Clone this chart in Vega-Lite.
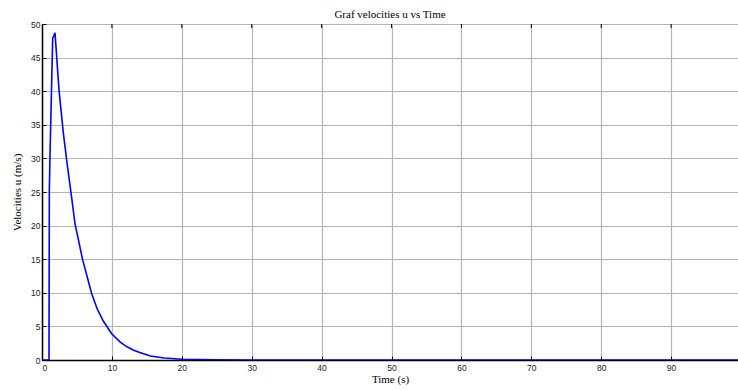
{
  "$schema": "https://vega.github.io/schema/vega-lite/v6.json",
  "width": 696,
  "height": 336,
  "autosize": {"type": "none"},
  "padding": {"left": 42, "top": 24, "right": 0, "bottom": 30},
  "background": "white",
  "title": {
    "text": "Graf velocities u vs Time",
    "font": "Liberation Serif",
    "fontSize": 11,
    "fontWeight": "normal",
    "color": "#000000",
    "anchor": "middle",
    "offset": 0
  },
  "config": {
    "view": {"stroke": null},
    "axis": {
      "labelFont": "Liberation Sans",
      "labelFontSize": 8.5,
      "labelColor": "#222222",
      "titleFont": "Liberation Serif",
      "titleFontSize": 11,
      "titleFontWeight": "normal",
      "titleColor": "#000000",
      "gridColor": "#b4b4b4",
      "gridWidth": 1.2,
      "gridOpacity": 1,
      "domainColor": "#000000",
      "domainWidth": 1.5,
      "tickColor": "#000000",
      "tickWidth": 1
    }
  },
  "datasets": {
    "velocity": [
      {"t": 0, "u": 0},
      {"t": 1.0, "u": 0},
      {"t": 1.05, "u": 25.3},
      {"t": 1.14, "u": 30.2},
      {"t": 1.53, "u": 47.9},
      {"t": 1.62, "u": 48.1},
      {"t": 1.86, "u": 48.7},
      {"t": 2.43, "u": 40.2},
      {"t": 3.05, "u": 33.8},
      {"t": 3.62, "u": 29.0},
      {"t": 4.1, "u": 25.3},
      {"t": 4.72, "u": 20.3},
      {"t": 5.82, "u": 14.9},
      {"t": 7.1, "u": 9.9},
      {"t": 7.9, "u": 7.6},
      {"t": 8.77, "u": 5.8},
      {"t": 9.97, "u": 3.9},
      {"t": 11.2, "u": 2.65},
      {"t": 12.1, "u": 2.0},
      {"t": 13.1, "u": 1.45},
      {"t": 14.0, "u": 1.1},
      {"t": 15.5, "u": 0.6},
      {"t": 17.5, "u": 0.3},
      {"t": 20.0, "u": 0.12},
      {"t": 25.0, "u": 0.02},
      {"t": 30.0, "u": 0},
      {"t": 100.0, "u": 0}
    ],
    "topTicks": [
      {"t": 10}, {"t": 20}, {"t": 30}, {"t": 40}, {"t": 50},
      {"t": 60}, {"t": 70}, {"t": 80}, {"t": 90}
    ]
  },
  "layer": [
    {
      "data": {"name": "velocity"},
      "mark": {"type": "line", "color": "#0000ff", "strokeWidth": 1.6, "clip": true},
      "encoding": {
        "x": {
          "field": "t",
          "type": "quantitative",
          "scale": {"domain": [0, 99.57], "nice": false, "zero": false},
          "axis": {
            "title": "Time (s)",
            "values": [0, 10, 20, 30, 40, 50, 60, 70, 80, 90, 100],
            "grid": true,
            "tickSize": -4,
            "labelPadding": 7,
            "titlePadding": 2
          }
        },
        "y": {
          "field": "u",
          "type": "quantitative",
          "scale": {"domain": [0, 50], "nice": false},
          "axis": {
            "title": "Velocities u (m/s)",
            "values": [0, 5, 10, 15, 20, 25, 30, 35, 40, 45, 50],
            "grid": true,
            "tickSize": -4,
            "labelPadding": 6,
            "titlePadding": 8
          }
        }
      }
    },
    {
      "data": {"name": "topTicks"},
      "mark": {"type": "tick", "orient": "vertical", "color": "#000000", "size": 8, "thickness": 1, "opacity": 1, "clip": true},
      "encoding": {
        "x": {
          "field": "t",
          "type": "quantitative",
          "axis": {
            "title": "Time (s)",
            "values": [0, 10, 20, 30, 40, 50, 60, 70, 80, 90, 100],
            "grid": true,
            "tickSize": -4,
            "labelPadding": 7,
            "titlePadding": 2
          }
        },
        "y": {
          "datum": 50,
          "type": "quantitative",
          "axis": {
            "title": "Velocities u (m/s)",
            "values": [0, 5, 10, 15, 20, 25, 30, 35, 40, 45, 50],
            "grid": true,
            "tickSize": -4,
            "labelPadding": 6,
            "titlePadding": 8
          }
        }
      }
    },
    {
      "mark": {"type": "rule", "color": "#000000", "strokeWidth": 1.5},
      "encoding": {
        "y": {
          "datum": 50,
          "type": "quantitative",
          "axis": {
            "title": "Velocities u (m/s)",
            "values": [0, 5, 10, 15, 20, 25, 30, 35, 40, 45, 50],
            "grid": true,
            "tickSize": -4,
            "labelPadding": 6,
            "titlePadding": 8
          }
        }
      }
    }
  ]
}
